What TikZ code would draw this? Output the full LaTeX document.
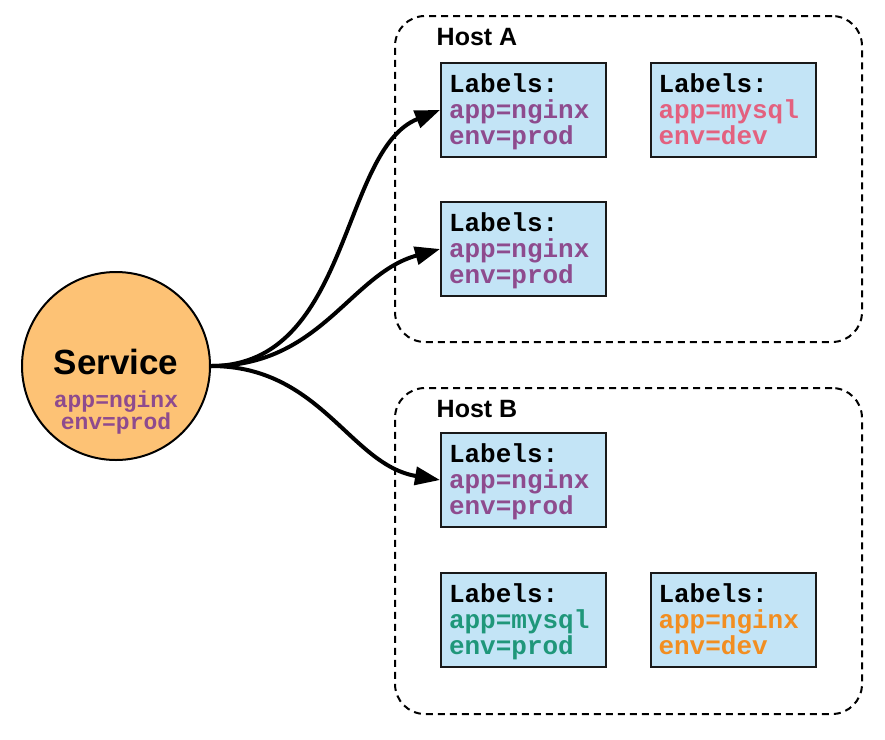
\documentclass[tikz,border=0pt]{standalone}
\usepackage{fontspec}
\setmainfont{Liberation Sans}
\setmonofont{Liberation Mono}
\usetikzlibrary{arrows.meta}

\definecolor{podblue}{HTML}{C3E4F6}
\definecolor{svcorange}{HTML}{FDC275}
\definecolor{lblpurple}{HTML}{8E4B8E}
\definecolor{lblpink}{HTML}{E3617F}
\definecolor{lblteal}{HTML}{1F977A}
\definecolor{lblorange}{HTML}{F28E21}
\newcommand{\podtop}{\rule{0pt}{24pt}}

\begin{document}
\begin{tikzpicture}[
                x=1pt, y=-1pt,
                host/.style={rectangle,draw=black,dash pattern=on 7pt off 5pt,line width=2pt,rounded corners=30pt,minimum width=467pt,minimum height=326pt},
                hostname/.style={font=\fontsize{25}{30}\selectfont\bfseries},
                pod/.style={rectangle,draw=black!90,line width=2pt,fill=podblue,minimum width=165pt,minimum height=94pt,text width=149pt,inner xsep=8pt,align=left,font=\fontsize{26}{26}\selectfont\ttfamily\bfseries},
                svc/.style={circle,draw=black,line width=2pt,fill=svcorange,minimum size=188pt},
                link/.style={-{Triangle[length=25pt,width=18pt]},line width=4pt},
            ]
            \useasboundingbox (0,0) rectangle (885,739);

            % Define hosts
            \node[host] (hostA) at (628.5,179) {};
            \node[host] (hostB) at (628.5,551) {};
            \node[hostname] (hostAname) at (477,37) {Host A};
            \node[hostname] (hostBname) at (477,409) {Host B};

            % Define pods
            \node[pod] (podA1) at (523.5,110) {\podtop Labels:\\\textcolor{lblpurple}{app=nginx}\\\textcolor{lblpurple}{env=prod}\strut};
            \node[pod] (podA2) at (733,110) {\podtop Labels:\\\textcolor{lblpink}{app=mysql}\\\textcolor{lblpink}{env=dev}\strut};
            \node[pod] (podA3) at (523.5,249) {\podtop Labels:\\\textcolor{lblpurple}{app=nginx}\\\textcolor{lblpurple}{env=prod}\strut};
            \node[pod] (podB1) at (523.5,480) {\podtop Labels:\\\textcolor{lblpurple}{app=nginx}\\\textcolor{lblpurple}{env=prod}\strut};
            \node[pod] (podB2) at (523.5,620) {\podtop Labels:\\\textcolor{lblteal}{app=mysql}\\\textcolor{lblteal}{env=prod}\strut};
            \node[pod] (podB3) at (733,620) {\podtop Labels:\\\textcolor{lblorange}{app=nginx}\\\textcolor{lblorange}{env=dev}\strut};

            % Define service
            \node[svc] (svc) at (116,366) {};
            \node (svcname) at (116,362) {\fontsize{35}{40}\selectfont\bfseries Service};
            \node[align=center,text=lblpurple,font=\fontsize{23}{22}\selectfont\ttfamily\bfseries] (svclabels) at (116,413) {app=nginx\\env=prod};

            % Draw connections
            \draw[link] (svc.east) .. controls +(140,0) and +(-100,40) .. (podA1.west);
            \draw[link] (svc.east) .. controls +(110,0) and +(-90,25) .. (podA3.west);
            \draw[link] (svc.east) .. controls +(110,0) and +(-90,-15) .. (podB1.west);

            \end{tikzpicture}
\end{document}
